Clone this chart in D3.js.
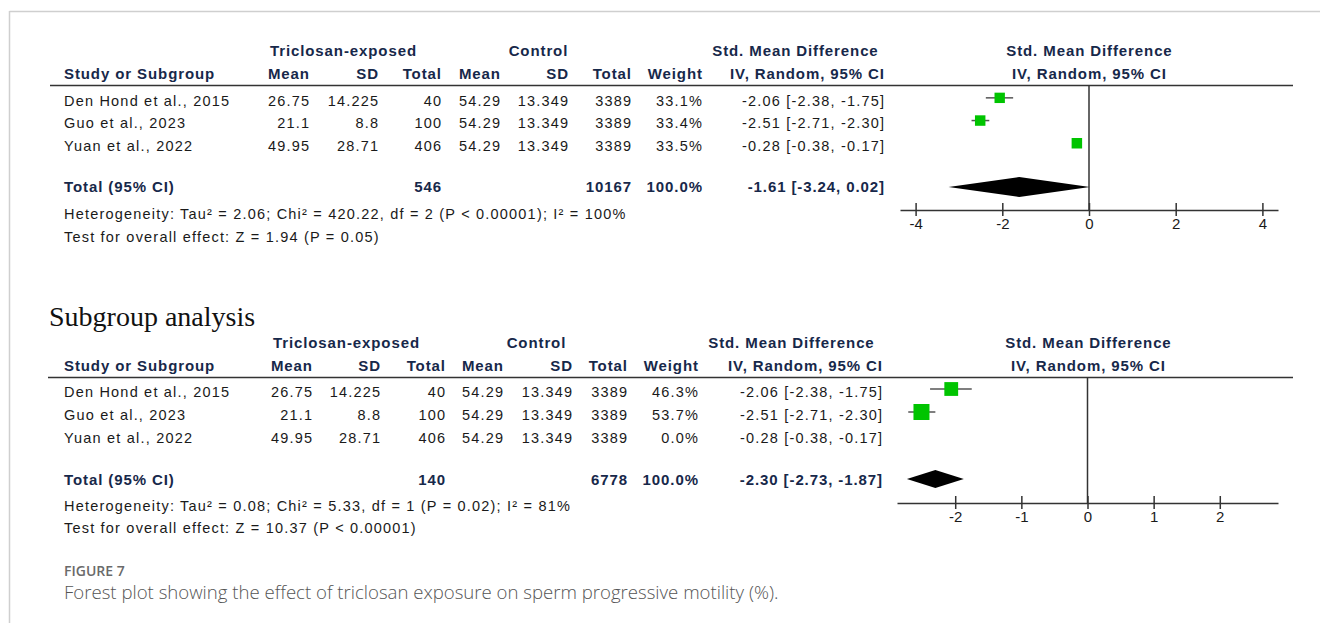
<!DOCTYPE html>
<html>
<head>
<meta charset="utf-8">
<script src="https://cdn.jsdelivr.net/npm/d3@7"></script>
<style>
  html, body { margin: 0; padding: 0; background: #fff; }
  svg { display: block; }
</style>
</head>
<body>
<svg id="chart" width="1320" height="623"></svg>
<script>
// ---------- data ----------
const studies = ["Den Hond et al., 2015", "Guo et al., 2023", "Yuan et al., 2022"];
const expMean = ["26.75", "21.1", "49.95"];
const expSD = ["14.225", "8.8", "28.71"];
const expTotal = [40, 100, 406];
const ctrlMean = ["54.29", "54.29", "54.29"];
const ctrlSD = ["13.349", "13.349", "13.349"];
const ctrlTotal = [3389, 3389, 3389];
const smd = [-2.06, -2.51, -0.28];
const smdLo = [-2.38, -2.71, -0.38];
const smdHi = [-1.75, -2.30, -0.17];

const weightsAll = [33.1, 33.4, 33.5];
const weightsSub = [46.3, 53.7, 0.0];

const totalAll = { exp: 546, ctrl: 10167, weight: "100.0%", est: -1.61, lo: -3.24, hi: 0.02 };
const totalSub = { exp: 140, ctrl: 6778, weight: "100.0%", est: -2.30, lo: -2.73, hi: -1.87 };

const hetAll = "Heterogeneity: Tau\u00B2 = 2.06; Chi\u00B2 = 420.22, df = 2 (P < 0.00001); I\u00B2 = 100%";
const testAll = "Test for overall effect: Z = 1.94 (P = 0.05)";
const hetSub = "Heterogeneity: Tau\u00B2 = 0.08; Chi\u00B2 = 5.33, df = 1 (P = 0.02); I\u00B2 = 81%";
const testSub = "Test for overall effect: Z = 10.37 (P < 0.00001)";

const ticksAll = [-4, -2, 0, 2, 4];
const ticksSub = [-2, -1, 0, 1, 2];

// ---------- drawing ----------
const svg = d3.select("#chart");
const FONT = "'Liberation Sans', Arial, sans-serif";
const HDR = "#17284a";
const TXT = "#1a1a1a";
const GREEN = "#00c400";
const f2 = v => d3.format(".2f")(v).replace("\u2212", "-");

// frame
svg.append("line").attr("x1", 9.5).attr("x2", 1320).attr("y1", 11.5).attr("y2", 11.5)
  .attr("stroke", "#cfcfcf").attr("stroke-width", 1.5);
svg.append("line").attr("x1", 9.5).attr("x2", 9.5).attr("y1", 11).attr("y2", 623)
  .attr("stroke", "#cfcfcf").attr("stroke-width", 1.5);

function fmtCI(e, l, h) {
  return f2(e) + " [" + f2(l) + ", " + f2(h) + "]";
}

function panel(cfg) {
  const g = svg.append("g");
  const T = (x, y, s, opt = {}) => {
    const ls = opt.ls != null ? opt.ls : (opt.bold ? 0.9 : 1.2);
    const anchor = opt.anchor || "end";
    const xx = anchor === "end" ? x + ls : anchor === "middle" ? x + ls / 2 : x;
    return g.append("text")
      .attr("x", xx).attr("y", y).attr("dy", "0.36em")
      .attr("text-anchor", anchor)
      .attr("font-family", FONT)
      .attr("font-size", opt.bold ? 15 : 14.5)
      .attr("font-weight", opt.bold ? "bold" : "normal")
      .attr("letter-spacing", ls)
      .attr("fill", opt.color || TXT)
      .text(s);
  };
  const c = cfg.cols;
  const hb = { bold: true, color: HDR };

  // group headers
  T(c.grpExp, cfg.h1, "Triclosan-exposed", { ...hb, anchor: "middle" });
  T(c.grpCtrl, cfg.h1, "Control", { ...hb, anchor: "middle" });
  T(c.grpSmd, cfg.h1, "Std. Mean Difference", { ...hb, anchor: "middle" });
  T(c.grpPlot, cfg.h1, "Std. Mean Difference", { ...hb, anchor: "middle" });

  // column headers
  T(c.study, cfg.h2, "Study or Subgroup", { ...hb, anchor: "start" });
  T(c.eMean, cfg.h2, "Mean", hb);
  T(c.eSD, cfg.h2, "SD", hb);
  T(c.eN, cfg.h2, "Total", hb);
  T(c.cMean, cfg.h2, "Mean", hb);
  T(c.cSD, cfg.h2, "SD", hb);
  T(c.cN, cfg.h2, "Total", hb);
  T(c.w, cfg.h2, "Weight", hb);
  T(c.ci, cfg.h2, "IV, Random, 95% CI", hb);
  T(c.grpPlot, cfg.h2, "IV, Random, 95% CI", { ...hb, anchor: "middle" });

  // header rule
  g.append("line").attr("x1", cfg.ruleX1).attr("x2", 1293)
    .attr("y1", cfg.rule).attr("y2", cfg.rule)
    .attr("stroke", "#333").attr("stroke-width", 1.5);

  // rows
  const y = d3.scaleBand().domain(studies).range([cfg.rowTop, cfg.rowTop + 3 * cfg.rowH]);
  studies.forEach((s, i) => {
    const yy = y(s) + cfg.rowH / 2;
    T(c.study, yy, s, { anchor: "start" });
    T(c.eMean, yy, expMean[i]);
    T(c.eSD, yy, expSD[i]);
    T(c.eN, yy, expTotal[i]);
    T(c.cMean, yy, ctrlMean[i]);
    T(c.cSD, yy, ctrlSD[i]);
    T(c.cN, yy, ctrlTotal[i]);
    T(c.w, yy, d3.format(".1f")(cfg.weights[i]) + "%");
    T(c.ci, yy, fmtCI(smd[i], smdLo[i], smdHi[i]));
  });

  // totals
  const tt = cfg.total;
  T(c.study, cfg.totY, "Total (95% CI)", { ...hb, anchor: "start" });
  T(c.eN, cfg.totY, tt.exp, hb);
  T(c.cN, cfg.totY, tt.ctrl, hb);
  T(c.w, cfg.totY, tt.weight, hb);
  T(c.ci, cfg.totY, fmtCI(tt.est, tt.lo, tt.hi), hb);
  T(c.study, cfg.hetY, cfg.het, { anchor: "start" });
  T(c.study, cfg.testY, cfg.test, { anchor: "start" });

  // plot
  const x = d3.scaleLinear().domain(cfg.domain).range([cfg.axX0, 1278]);
  g.append("line").attr("x1", x(0)).attr("x2", x(0))
    .attr("y1", cfg.rule).attr("y2", cfg.axisY)
    .attr("stroke", "#333").attr("stroke-width", 1.5);

  const maxW = d3.max(cfg.weights);
  studies.forEach((s, i) => {
    if (cfg.weights[i] <= 0) return;
    const yy = y(s) + cfg.rowH / 2 - 2.5;
    g.append("line").attr("x1", x(smdLo[i])).attr("x2", x(smdHi[i]))
      .attr("y1", yy).attr("y2", yy).attr("stroke", "#555").attr("stroke-width", 1.5);
    const sz = cfg.maxSq * cfg.weights[i] / maxW;
    g.append("rect").attr("x", x(smd[i]) - sz / 2).attr("y", yy - sz / 2)
      .attr("width", sz).attr("height", sz).attr("fill", GREEN);
  });

  // diamond
  const dy = cfg.diaY, dh = cfg.diaH;
  g.append("path")
    .attr("d", `M${x(tt.lo)},${dy} L${x(tt.est)},${dy - dh} L${x(tt.hi)},${dy} L${x(tt.est)},${dy + dh} Z`)
    .attr("fill", "#000");

  // axis
  const ax = g.append("g").attr("transform", `translate(0,${cfg.axisY})`)
    .call(d3.axisBottom(x).tickValues(cfg.ticks).tickSizeOuter(0).tickSizeInner(6).tickPadding(2));
  ax.select(".domain").attr("stroke", "#333").attr("stroke-width", 1.5);
  ax.selectAll(".tick line").attr("y1", -7).attr("y2", 6).attr("stroke", "#333").attr("stroke-width", 1.5);
  ax.selectAll(".tick text").attr("font-family", FONT).attr("font-size", 15)
    .attr("fill", TXT).text(d => (d < 0 ? "-" : "") + Math.abs(d));
}

panel({
  cols: { study: 64, eMean: 309, eSD: 378, eN: 441, cMean: 500, cSD: 568, cN: 631, w: 702, ci: 884,
          grpExp: 343, grpCtrl: 538, grpSmd: 795, grpPlot: 1089 },
  h1: 51, h2: 74, rule: 85.5, ruleX1: 50, rowTop: 89, rowH: 22.7,
  weights: weightsAll, total: totalAll, totY: 187, hetY: 214, testY: 237,
  het: hetAll, test: testAll,
  domain: [-4.36, 4.36], axX0: 900, axisY: 210, ticks: ticksAll,
  maxSq: 10.5, diaY: 187, diaH: 10
});

panel({
  cols: { study: 64, eMean: 312, eSD: 380, eN: 445, cMean: 503, cSD: 572, cN: 627, w: 698, ci: 882,
          grpExp: 346, grpCtrl: 536, grpSmd: 791, grpPlot: 1088 },
  h1: 343, h2: 366, rule: 377.5, ruleX1: 48, rowTop: 380, rowH: 23,
  weights: weightsSub, total: totalSub, totY: 480, hetY: 506, testY: 528,
  het: hetSub, test: testSub,
  domain: [-2.88, 2.88], axX0: 897, axisY: 503, ticks: ticksSub,
  maxSq: 16, diaY: 479, diaH: 9
});

// subgroup title
svg.append("text").attr("x", 49).attr("y", 316).attr("dy", "0.36em")
  .attr("font-family", "'Liberation Serif', 'Times New Roman', serif")
  .attr("font-size", 28).attr("fill", "#111").text("Subgroup analysis");

// caption
svg.append("text").attr("x", 64).attr("y", 571).attr("dy", "0.36em")
  .attr("font-family", "'Open Sans', sans-serif").attr("font-weight", 600)
  .attr("font-size", 14).attr("fill", "#6a6a6a").text("FIGURE 7");
svg.append("text").attr("x", 64).attr("y", 592).attr("dy", "0.36em")
  .attr("font-family", "'Open Sans', sans-serif").attr("font-weight", 300)
  .attr("font-size", 18.6).attr("fill", "#555").text("Forest plot showing the effect of triclosan exposure on sperm progressive motility (%).");
</script>
</body>
</html>
